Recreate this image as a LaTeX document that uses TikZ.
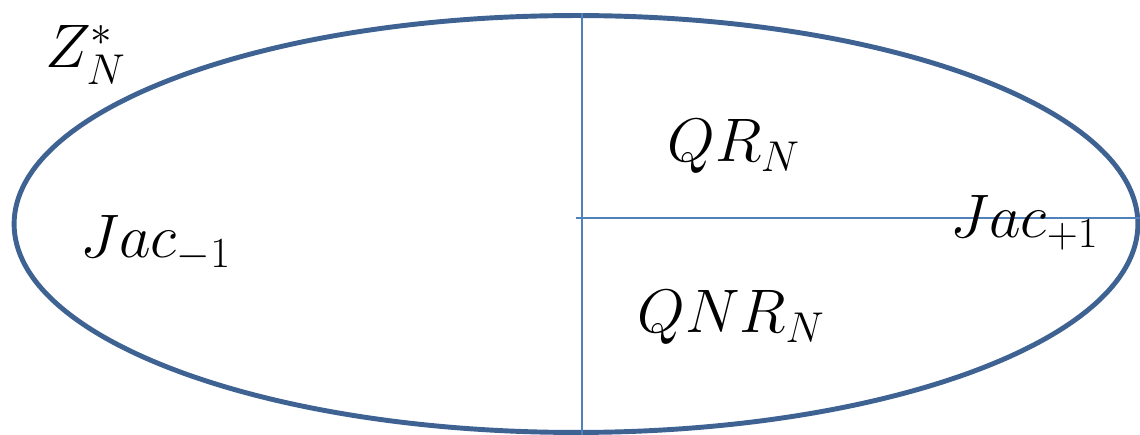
\documentclass[tikz,border=0pt]{standalone}
\usepackage{fix-cm}
\usepackage{amsmath}
\usepackage{amssymb}

\definecolor{rim}{RGB}{62,98,146}
\definecolor{cut}{RGB}{79,129,189}

\begin{document}
\begin{tikzpicture}[x=0.02cm, y=-0.02cm,
  lbl/.style={anchor=base west, inner sep=0pt, font=\fontsize{35}{42}\selectfont}]

\useasboundingbox (0,0) rectangle (1140,435);

\draw[rim, line width=2.8pt](576,224) ellipse [x radius=11.24cm, y radius=4.17cm];

\coordinate (vtop) at (582,13);
\coordinate (vbot) at (582,435);
\coordinate (hleft) at (576,218);
\coordinate (hright) at (1140,218);

\draw[cut, line width=1pt](vtop)--(vbot);
\draw[cut, line width=1pt](hleft)--(hright);


\node[lbl] (zn) at (45,68){$Z_N^*$};
\node[lbl] (jm) at (80,258){$Jac_{-1}$};

\node[lbl] (qr) at (667,162){$QR_N$};
\node[lbl] (qnr) at (637,333){$QNR_N$};

\node[lbl] (jp) at (950,238){$Jac_{+1}$};


\end{tikzpicture}
\end{document}
